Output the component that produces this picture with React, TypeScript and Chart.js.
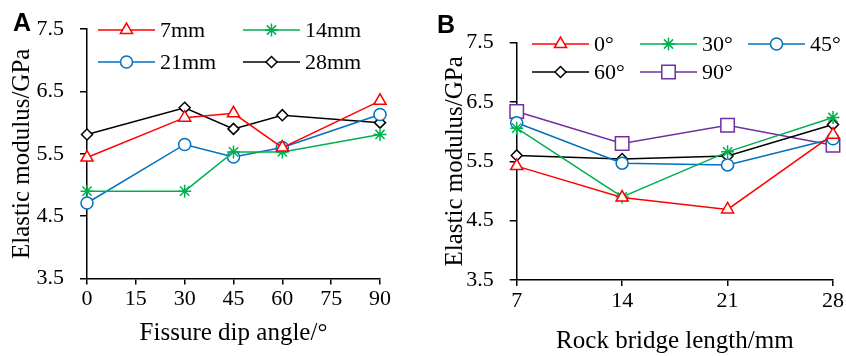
import React, { useEffect, useRef } from 'react';
import { Chart, registerables } from 'chart.js';
import { drawPoint } from 'chart.js/helpers';

Chart.register(...registerables);

// ---------- Data: panel A (x = fissure dip angle) ----------
const anglesA = [0, 30, 45, 60, 90];
const xTicksA = [0, 15, 30, 45, 60, 75, 90];
const bridge7mm = [5.44, 6.08, 6.15, 5.6, 6.35];
const bridge14mm = [4.9, 4.9, 5.53, 5.53, 5.81];
const bridge21mm = [4.71, 5.65, 5.45, 5.6, 6.13];
const bridge28mm = [5.81, 6.24, 5.9, 6.12, 6.0];

// ---------- Data: panel B (x = rock bridge length) ----------
const lengthsB = [7, 14, 21, 28];
const xTicksB = [7, 14, 21, 28];
const dip0 = [5.42, 4.89, 4.69, 5.95];
const dip30 = [6.06, 4.9, 5.66, 6.24];
const dip45 = [6.15, 5.47, 5.44, 5.88];
const dip60 = [5.6, 5.54, 5.59, 6.12];
const dip90 = [6.34, 5.8, 6.11, 5.77];

const yTicks = [3.5, 4.5, 5.5, 6.5, 7.5];

const SERIF = '"Liberation Serif", "Times New Roman", serif';

const STYLE = {
  red: { color: '#FF0000', pointStyle: 'triangle', radius: 7 },
  green: { color: '#00B050', pointStyle: 'star', radius: 6.5 },
  blue: { color: '#0070C0', pointStyle: 'circle', radius: 6 },
  black: { color: '#000000', pointStyle: 'rectRot', radius: 5.5 },
  purple: { color: '#7030A0', pointStyle: 'rect', radius: 9.5 },
};

function series(label: string, xs: number[], ys: number[], st: any) {
  return {
    label,
    data: xs.map((x, i) => ({ x, y: ys[i] })),
    borderColor: st.color,
    borderWidth: 1.5,
    pointStyle: st.pointStyle,
    pointRadius: st.radius,
    pointHoverRadius: st.radius,
    pointBackgroundColor: '#FFFFFF',
    pointBorderColor: st.color,
    pointBorderWidth: 1.5,
    fill: false,
    tension: 0,
    clip: false,
  };
}

function makeLegend(cols: number[], rows: number[], perRow: number) {
  return {
    id: 'inlineLegend',
    afterDatasetsDraw(chart: any) {
      const ctx = chart.ctx;
      const lineLen = 57;
      const gap = 5;
      ctx.save();
      chart.data.datasets.forEach((ds: any, i: number) => {
        const col = i % perRow;
        const row = Math.floor(i / perRow);
        const x0 = cols[col];
        const y = rows[row];
        const x1 = x0 + lineLen;
        ctx.strokeStyle = ds.borderColor;
        ctx.lineWidth = ds.borderWidth;
        ctx.beginPath();
        ctx.moveTo(x0, y);
        ctx.lineTo(x1, y);
        ctx.stroke();
        ctx.fillStyle = ds.pointBackgroundColor;
        ctx.strokeStyle = ds.pointBorderColor;
        ctx.lineWidth = ds.pointBorderWidth;
        drawPoint(
          ctx,
          { pointStyle: ds.pointStyle, radius: ds.pointRadius, rotation: 0, borderWidth: ds.pointBorderWidth },
          (x0 + x1) / 2,
          y
        );
        ctx.fillStyle = '#000';
        ctx.font = `22px ${SERIF}`;
        ctx.textAlign = 'left';
        ctx.textBaseline = 'middle';
        ctx.fillText(ds.label, x1 + gap, y + 1);
      });
      ctx.restore();
    },
  };
}

function axisCommon() {
  return {
    grid: { display: true, drawOnChartArea: false, drawTicks: true, color: '#000', lineWidth: 1.5 },
    border: { display: true, color: '#000', width: 1.5 },
  };
}

function buildConfig(opts: {
  datasets: any[];
  xMin: number;
  xMax: number;
  xTicks: number[];
  xTitle: string;
  xTitleBottom: number;
  yWidth: number;
  yTitleTop: number;
  padTop: number;
  padRight: number;
  plotBottom: number;
  legend: any;
}) {
  return {
    type: 'line',
    data: { datasets: opts.datasets },
    plugins: [opts.legend],
    options: {
      responsive: false,
      animation: false,
      devicePixelRatio: 1,
      layout: { padding: { top: opts.padTop, right: opts.padRight, left: 0, bottom: 0 } },
      plugins: { legend: { display: false }, tooltip: { enabled: false } },
      scales: {
        x: {
          type: 'linear',
          min: opts.xMin,
          max: opts.xMax,
          afterBuildTicks: (s: any) => {
            s.ticks = opts.xTicks.map((v) => ({ value: v }));
          },
          afterFit: (s: any) => {
            s.height = 356 - opts.plotBottom;
          },
          ticks: {
            color: '#000',
            padding: 2,
            maxRotation: 0,
            font: { family: SERIF, size: 22 },
            callback: (v: any) => String(v),
          },
          ...axisCommon(),
          grid: { ...axisCommon().grid, tickLength: 6 },
          title: {
            display: true,
            text: opts.xTitle,
            color: '#000',
            font: { family: SERIF, size: 25 },
            padding: { top: 0, bottom: opts.xTitleBottom },
          },
        },
        y: {
          type: 'linear',
          min: 3.5,
          max: 7.5,
          afterBuildTicks: (s: any) => {
            s.ticks = yTicks.map((v) => ({ value: v }));
          },
          afterFit: (s: any) => {
            s.width = opts.yWidth;
          },
          ticks: {
            color: '#000',
            padding: 16,
            font: { family: SERIF, size: 22 },
            callback: (v: any) => Number(v).toFixed(1),
          },
          ...axisCommon(),
          grid: { ...axisCommon().grid, tickLength: 7 },
          title: {
            display: true,
            text: 'Elastic modulus/GPa',
            color: '#000',
            font: { family: SERIF, size: 25 },
            padding: { top: opts.yTitleTop, bottom: 0 },
          },
        },
      },
    },
  };
}

export default function App() {
  const refA = useRef<HTMLCanvasElement | null>(null);
  const refB = useRef<HTMLCanvasElement | null>(null);

  useEffect(() => {
    const chartA = new Chart(
      refA.current as HTMLCanvasElement,
      buildConfig({
        datasets: [
          series('7mm', anglesA, bridge7mm, STYLE.red),
          series('14mm', anglesA, bridge14mm, STYLE.green),
          series('21mm', anglesA, bridge21mm, STYLE.blue),
          series('28mm', anglesA, bridge28mm, STYLE.black),
        ],
        xMin: 0,
        xMax: 90,
        xTicks: xTicksA,
        xTitle: 'Fissure dip angle/°',
        xTitleBottom: 8,
        yWidth: 87,
        yTitleTop: 7,
        padTop: 19.3,
        padRight: 40,
        plotBottom: 278.4,
        legend: makeLegend([98, 243], [30, 62], 2),
      }) as any
    );
    const chartB = new Chart(
      refB.current as HTMLCanvasElement,
      buildConfig({
        datasets: [
          series('0°', lengthsB, dip0, STYLE.red),
          series('30°', lengthsB, dip30, STYLE.green),
          series('45°', lengthsB, dip45, STYLE.blue),
          series('60°', lengthsB, dip60, STYLE.black),
          series('90°', lengthsB, dip90, STYLE.purple),
        ],
        xMin: 7,
        xMax: 28,
        xTicks: xTicksB,
        xTitle: 'Rock bridge length/mm',
        xTitleBottom: 0,
        yWidth: 96.7,
        yTitleTop: 20,
        padTop: 42.7,
        padRight: 12.7,
        plotBottom: 280,
        legend: makeLegend([112, 220, 328], [44, 72], 3),
      }) as any
    );
    return () => {
      chartA.destroy();
      chartB.destroy();
    };
  }, []);

  const letter: React.CSSProperties = {
    position: 'absolute',
    font: 'bold 25px "Liberation Sans", Arial, sans-serif',
    lineHeight: '25px',
    color: '#000',
    margin: 0,
  };

  return (
    <div style={{ position: 'absolute', left: 0, top: 0, width: 846, height: 356, background: '#fff', overflow: 'hidden' }}>
      <canvas ref={refA} width={420} height={356} style={{ position: 'absolute', left: 0, top: 0, display: 'block' }} />
      <canvas ref={refB} width={426} height={356} style={{ position: 'absolute', left: 420, top: 0, display: 'block' }} />
      <div style={{ ...letter, left: 13, top: 10 }}>A</div>
      <div style={{ ...letter, left: 437, top: 12 }}>B</div>
    </div>
  );
}
